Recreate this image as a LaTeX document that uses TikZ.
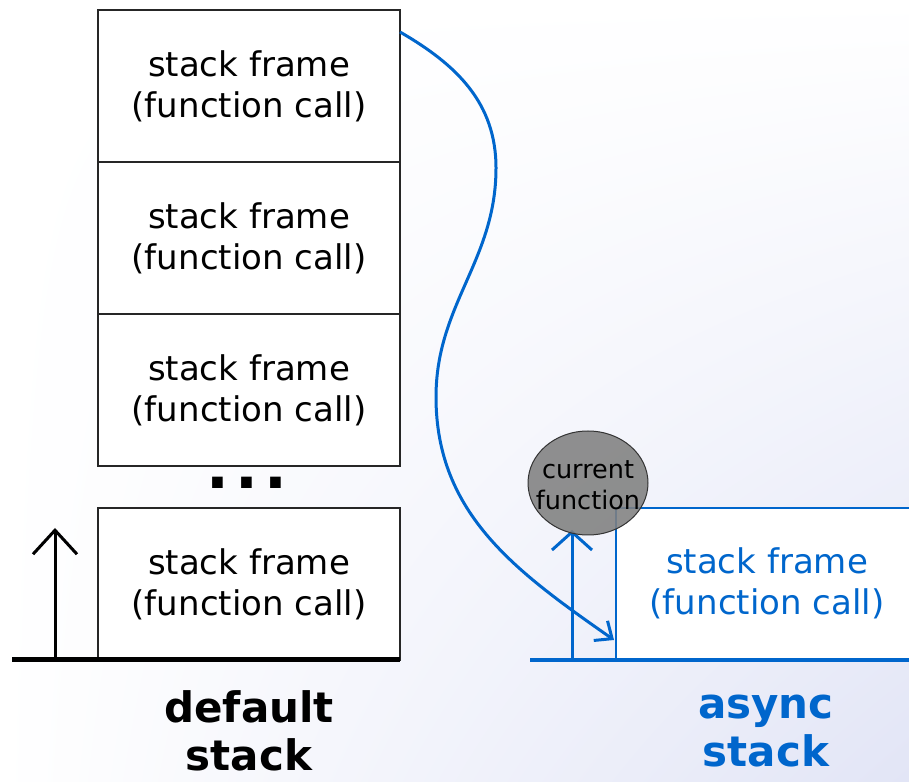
\documentclass[tikz,border=0pt]{standalone}
\usepackage{fontspec}
\setmainfont{DejaVu Sans}
\usetikzlibrary{arrows.meta,positioning,shapes,shadings}

\definecolor{asyncblue}{RGB}{0,102,204}
\definecolor{bglav}{RGB}{226,229,246}

\begin{document}
\begin{tikzpicture}[
            x = 1pt, y = 1pt, % one unit per pixel
            > = {Straight Barb[length=14pt,width=24pt]}, % open arrow head
            node distance = 0pt, % frames sit on each other
            line join = miter
        ]

        \tikzstyle{frame}=[
            draw = black!85,
            fill = white,
            line width = 2.5pt,
            outer sep = 0pt,
            minimum width = 302pt,
            minimum height = 152pt,
            align = center,
            font = \fontsize{34}{41}\selectfont
        ]
        \tikzstyle{stacklabel}=[
            align = center,
            font = \fontsize{42}{48}\selectfont\bfseries
        ]

        % background
        \shade[upper left = white, upper right = white,
               lower left = white, lower right = bglav] (0,0) rectangle (909,781);
        \useasboundingbox (0,0) rectangle (909,781);

        % default stack
        \node[frame] (f1) at (249,695) {stack frame\\(function call)};
        \node[frame] (f2) [below=of f1] {stack frame\\(function call)};
        \node[frame] (f3) [below=of f2] {stack frame\\(function call)};
        \node[font=\fontsize{60}{60}\selectfont\bfseries] (dots) at (247,298) {.\kern6pt.\kern6pt.};
        \node[frame] (f4) at (249,197) {stack frame\\(function call)};

        \coordinate (g0) at (12,121);
        \coordinate (up0) at (55,121);
        \coordinate (up1) at (55,253);
        \draw[line width=5pt] (g0) -- (f4.south east);
        \draw[->, >={Straight Barb[length=24pt,width=44pt]}, line width=3pt] (up0) -- (up1);

        \node[stacklabel] (dl) at (249,50) {default\\stack};

        % async stack
        \coordinate (a0) at (530,121);
        \coordinate (a1) at (909,121);
        \coordinate (ab) at (616,121);
        \coordinate (ar) at (912,273);
        \coordinate (b0) at (572,121);
        \coordinate (b1) at (572,251);
        \fill[white] (ab) rectangle (ar);
        \draw[asyncblue, line width=2pt] (ab) |- (ar);
        \draw[asyncblue, line width=4pt] (a0) -- (a1);
        \node[asyncblue, align=center, font=\fontsize{34}{41}\selectfont] (af) at (767,198) {stack frame\\(function call)};
        \draw[asyncblue, ->, >={Straight Barb[length=18pt,width=40pt]}, line width=3pt] (b0) -- (b1);

        \node[stacklabel, asyncblue] (al) at (766,50) {async\\stack};

        % current function
        \node[ellipse, draw=black!80, fill=black!50, fill opacity=0.88,
              minimum width=120pt, minimum height=104pt, inner sep=0pt, line width=1pt,
              label={[align=center, font=\fontsize{25.5}{31}\selectfont, yshift=-2pt]center:current\\function}]
              (cur) at (588,298) {};

        % link from the frame to the async stack
        \coordinate (c1) at (496,613);
        \coordinate (c2) at (436,384);
        \coordinate (tip) at (614,141);
        \draw[asyncblue, ->, line width=3pt] ([yshift=-22pt]f1.north east)
            to[out=-30,in=90] (c1) to[out=-90,in=90] (c2) to[out=-90,in=145] (tip);

    \end{tikzpicture}
\end{document}
